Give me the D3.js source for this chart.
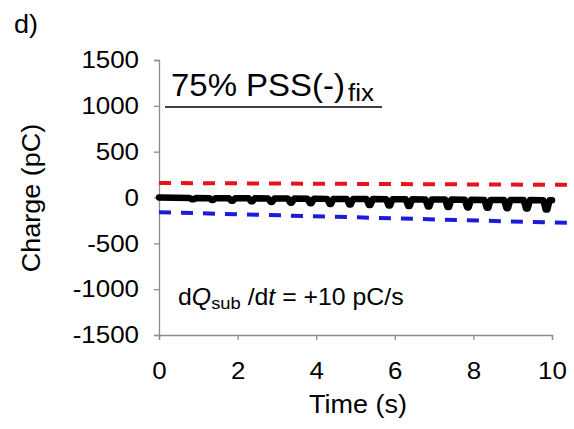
<!DOCTYPE html>
<html>
<head>
<meta charset="utf-8">
<script src="https://cdn.jsdelivr.net/npm/d3@7"></script>
<style>
  html, body { margin: 0; padding: 0; background: #fff; }
  svg { display: block; font-family: "Liberation Sans", Arial, sans-serif; }
</style>
</head>
<body>
<svg id="chart" width="574" height="429"></svg>
<script>
// Axis ticks
const xTicks = [0, 2, 4, 6, 8, 10];
const yTicks = [-1500, -1000, -500, 0, 500, 1000, 1500];

// Measured substrate charge trace (time in s, charge in pC)
const traceTime = [
  0, 0.4,
  0.78, 0.84, 0.88, 0.94,
  1.28, 1.34, 1.38, 1.44,
  1.78, 1.84, 1.88, 1.94,
  2.28, 2.34, 2.38, 2.44,
  2.78, 2.84, 2.88, 2.94,
  3.28, 3.34, 3.38, 3.44,
  3.78, 3.84, 3.88, 3.94,
  4.28, 4.34, 4.38, 4.44,
  4.78, 4.84, 4.88, 4.94,
  5.28, 5.34, 5.38, 5.44,
  5.78, 5.84, 5.88, 5.94,
  6.28, 6.34, 6.38, 6.44,
  6.78, 6.84, 6.88, 6.94,
  7.28, 7.34, 7.38, 7.44,
  7.78, 7.84, 7.88, 7.94,
  8.28, 8.34, 8.38, 8.44,
  8.78, 8.84, 8.88, 8.94,
  9.28, 9.34, 9.38, 9.44,
  9.78, 9.84, 9.88, 9.94,
  10.0
];
const traceCharge = [
  0, -4,
  -5, -20, -20, -5,
  -7, -28, -28, -7,
  -8, -35, -35, -8,
  -9, -42, -42, -9,
  -11, -50, -50, -11,
  -12, -57, -57, -12,
  -13, -64, -64, -13,
  -15, -70, -70, -15,
  -16, -76, -76, -16,
  -17, -82, -82, -17,
  -19, -88, -88, -19,
  -20, -93, -93, -20,
  -21, -98, -98, -21,
  -23, -103, -103, -23,
  -24, -108, -108, -24,
  -26, -112, -112, -26,
  -27, -116, -116, -27,
  -28, -120, -120, -28,
  -30, -132, -132, -30,
  -30
];

// Upper and lower threshold lines (dashed)
const upperTime = [0, 10.5];
const upperCharge = [158, 138];
const lowerTime = [0, 10.5];
const lowerCharge = [-160, -278];

const svg = d3.select("#chart");
const FONT = "Liberation Sans, Arial, sans-serif";
const WIDEN = 1.08; // slightly wider glyphs

const x = d3.scaleLinear().domain([0, 10]).range([159, 552]);
const y = d3.scaleLinear().domain([-1500, 1500]).range([335, 60]);

const axisColor = "#8c8c8c";
const plainNumber = d => String(d);

// Y axis
const yAxis = svg.append("g")
  .attr("transform", `translate(${x(0)},0)`)
  .call(d3.axisLeft(y).tickValues(yTicks).tickSize(5).tickPadding(13.5).tickFormat(plainNumber));
yAxis.select(".domain").attr("stroke", axisColor).attr("stroke-width", 1.3);
yAxis.selectAll(".tick line").attr("stroke", axisColor).attr("stroke-width", 1.3);
yAxis.selectAll(".tick text")
  .attr("fill", "#000").attr("font-size", 24).attr("font-family", FONT)
  .attr("transform", `scale(${WIDEN},1)`);

// X axis
const xAxis = svg.append("g")
  .attr("transform", `translate(0,${y(-1500)})`)
  .call(d3.axisBottom(x).tickValues(xTicks).tickSize(5).tickPadding(22).tickFormat(plainNumber));
xAxis.select(".domain").attr("stroke", axisColor).attr("stroke-width", 1.3);
xAxis.selectAll(".tick line").attr("stroke", axisColor).attr("stroke-width", 1.3);
xAxis.selectAll(".tick text")
  .attr("fill", "#000").attr("font-size", 24).attr("font-family", FONT)
  .attr("transform", `scale(${WIDEN},1)`);

// Dashed threshold lines
const line = d3.line().x(d => x(d[0])).y(d => y(d[1]));
svg.append("path")
  .datum(upperTime.map((t, i) => [t, upperCharge[i]]))
  .attr("d", line)
  .attr("fill", "none").attr("stroke", "#e8141c").attr("stroke-width", 4)
  .attr("stroke-dasharray", "12,10");
svg.append("path")
  .datum(lowerTime.map((t, i) => [t, lowerCharge[i]]))
  .attr("d", line)
  .attr("fill", "none").attr("stroke", "#1c1cd8").attr("stroke-width", 4)
  .attr("stroke-dasharray", "12,10");

// Charge trace
svg.append("path")
  .datum(traceTime.map((t, i) => [t, traceCharge[i]]))
  .attr("d", line)
  .attr("fill", "none").attr("stroke", "#000").attr("stroke-width", 6.5)
  .attr("stroke-linejoin", "round").attr("stroke-linecap", "round");

// Text placed at (px, py), optionally rotated, widened along its own direction
function label(px, py, size, rot) {
  return svg.append("text")
    .attr("transform", `translate(${px},${py}) rotate(${rot || 0}) scale(${WIDEN},1)`)
    .attr("font-size", size).attr("font-family", FONT);
}

// Axis titles
label(358, 413, 25).attr("text-anchor", "middle").text("Time (s)");
label(40, 198, 25, -90).attr("text-anchor", "middle").text("Charge (pC)");

// Panel letter
label(14, 33, 25).text("d)");

// Panel title with underline
const title = label(171, 96, 30.5);
title.append("tspan").text("75% PSS(-)");
title.append("tspan").attr("font-size", 24).attr("dx", 3).attr("dy", 5).text("fix");
svg.append("line")
  .attr("x1", 165).attr("x2", 382).attr("y1", 107).attr("y2", 107)
  .attr("stroke", "#000").attr("stroke-width", 1.5);

// Rate annotation
const rate = label(178, 305, 23);
rate.append("tspan").text("d");
rate.append("tspan").attr("font-style", "italic").text("Q");
rate.append("tspan").attr("font-size", 17).attr("dy", 4).text("sub");
rate.append("tspan").attr("dy", -4).text(" /d");
rate.append("tspan").attr("font-style", "italic").text("t");
rate.append("tspan").text(" = +10 pC/s");
</script>
</body>
</html>
